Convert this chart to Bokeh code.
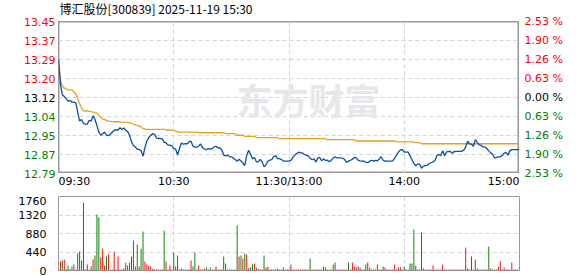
from bokeh.plotting import figure
from bokeh.models import Range1d, FixedTicker, Grid, Label, ColumnDataSource
from bokeh.layouts import column, row
from bokeh.core.properties import value
from bokeh.embed import file_html
from bokeh.resources import INLINE

TITLE = "博汇股份[300839] 2025-11-19 15:30"
WATERMARK = "东方财富"
PREV_CLOSE = 13.12
PRICE_HI = 13.452
PRICE_LO = 12.788

PRICE_TICKS = [13.452, 13.369, 13.286, 13.203, 13.12, 13.037, 12.954, 12.871, 12.788]
PRICE_LABELS = ["13.45", "13.37", "13.29", "13.20", "13.12", "13.04", "12.95", "12.87", "12.79"]
PCT_LABELS = ["2.53 %", "1.90 %", "1.26 %", "0.63 %", "0.00 %", "0.63 %", "1.26 %", "1.90 %", "2.53 %"]

TIME_TICKS = [0, 60, 120, 180, 240]
TIME_LABELS = ["09:30", "10:30", "11:30/13:00", "14:00", "15:00"]

VOL_TICKS = [0, 440, 880, 1320, 1760]

MINUTES = list(range(241))

PRICE = [
    13.288, 13.179, 13.131, 13.124, 13.114, 13.104, 13.107, 13.100, 13.100, 13.097,
    13.056, 13.017, 13.024, 13.007, 13.003, 13.004, 13.020, 13.017, 13.040, 13.024,
    12.998, 12.969, 12.955, 12.962, 12.969, 12.955, 12.954, 12.959, 12.968, 12.977,
    12.978, 12.978, 12.988, 12.980, 12.987, 12.977, 12.971, 12.955, 12.926, 12.910,
    12.904, 12.893, 12.893, 12.887, 12.864, 12.901, 12.930, 12.945, 12.954, 12.962,
    12.959, 12.943, 12.941, 12.941, 12.939, 12.925, 12.922, 12.912, 12.912, 12.909,
    12.897, 12.894, 12.869, 12.897, 12.921, 12.916, 12.918, 12.918, 12.926, 12.929,
    12.907, 12.903, 12.903, 12.908, 12.917, 12.901, 12.895, 12.892, 12.897, 12.894,
    12.897, 12.904, 12.907, 12.900, 12.901, 12.892, 12.869, 12.865, 12.868, 12.862,
    12.861, 12.856, 12.849, 12.842, 12.850, 12.843, 12.833, 12.823, 12.868, 12.890,
    12.872, 12.852, 12.858, 12.839, 12.839, 12.850, 12.839, 12.817, 12.826, 12.842,
    12.846, 12.849, 12.861, 12.866, 12.853, 12.853, 12.850, 12.842, 12.842, 12.842,
    12.842, 12.845, 12.859, 12.868, 12.875, 12.881, 12.878, 12.878, 12.871, 12.868,
    12.865, 12.855, 12.848, 12.852, 12.839, 12.855, 12.858, 12.843, 12.852, 12.845,
    12.846, 12.839, 12.846, 12.856, 12.861, 12.856, 12.856, 12.856, 12.855, 12.849,
    12.836, 12.842, 12.846, 12.850, 12.859, 12.856, 12.846, 12.843, 12.842, 12.842,
    12.837, 12.835, 12.842, 12.846, 12.842, 12.845, 12.843, 12.852, 12.861, 12.846,
    12.842, 12.842, 12.842, 12.842, 12.843, 12.855, 12.868, 12.882, 12.891, 12.892,
    12.882, 12.881, 12.882, 12.865, 12.849, 12.832, 12.822, 12.829, 12.829, 12.811,
    12.820, 12.822, 12.824, 12.832, 12.835, 12.839, 12.845, 12.866, 12.871, 12.866,
    12.887, 12.866, 12.882, 12.884, 12.884, 12.877, 12.884, 12.885, 12.885, 12.885,
    12.885, 12.890, 12.904, 12.929, 12.917, 12.916, 12.907, 12.936, 12.924, 12.913,
    12.911, 12.904, 12.904, 12.897, 12.887, 12.878, 12.872, 12.856, 12.858, 12.861,
    12.861, 12.866, 12.877, 12.879, 12.868, 12.888, 12.892, 12.892, 12.892, 12.892,
    12.892,
]

AVG_PRICE = [
    13.270, 13.197, 13.169, 13.162, 13.158, 13.153, 13.153, 13.153, 13.145, 13.136,
    13.114, 13.092, 13.075, 13.062, 13.061, 13.061, 13.059, 13.058, 13.056, 13.055,
    13.052, 13.042, 13.033, 13.026, 13.023, 13.020, 13.017, 13.016, 13.015, 13.015,
    13.014, 13.014, 13.014, 13.012, 13.011, 13.011, 13.011, 13.010, 13.008, 13.003,
    13.000, 12.997, 12.996, 12.991, 12.984, 12.983, 12.981, 12.981, 12.981, 12.981,
    12.981, 12.981, 12.981, 12.981, 12.981, 12.981, 12.978, 12.978, 12.978, 12.978,
    12.975, 12.974, 12.969, 12.969, 12.969, 12.969, 12.969, 12.969, 12.969, 12.969,
    12.969, 12.969, 12.969, 12.966, 12.966, 12.966, 12.966, 12.966, 12.966, 12.966,
    12.966, 12.966, 12.966, 12.966, 12.966, 12.966, 12.966, 12.962, 12.962, 12.962,
    12.962, 12.962, 12.962, 12.955, 12.955, 12.955, 12.955, 12.950, 12.950, 12.950,
    12.950, 12.950, 12.950, 12.945, 12.945, 12.945, 12.945, 12.945, 12.945, 12.945,
    12.945, 12.945, 12.945, 12.945, 12.945, 12.940, 12.940, 12.940, 12.940, 12.940,
    12.940, 12.940, 12.940, 12.940, 12.940, 12.940, 12.940, 12.940, 12.940, 12.940,
    12.940, 12.940, 12.940, 12.940, 12.940, 12.940, 12.940, 12.940, 12.940, 12.940,
    12.936, 12.936, 12.936, 12.936, 12.936, 12.936, 12.936, 12.936, 12.936, 12.936,
    12.936, 12.936, 12.936, 12.936, 12.936, 12.930, 12.930, 12.930, 12.930, 12.930,
    12.930, 12.930, 12.930, 12.930, 12.930, 12.930, 12.930, 12.930, 12.930, 12.930,
    12.930, 12.930, 12.930, 12.930, 12.930, 12.930, 12.926, 12.926, 12.926, 12.926,
    12.926, 12.926, 12.926, 12.926, 12.926, 12.925, 12.923, 12.923, 12.923, 12.918,
    12.918, 12.918, 12.918, 12.918, 12.918, 12.918, 12.918, 12.918, 12.918, 12.918,
    12.918, 12.918, 12.918, 12.918, 12.918, 12.918, 12.918, 12.918, 12.918, 12.918,
    12.918, 12.918, 12.918, 12.918, 12.918, 12.918, 12.918, 12.918, 12.918, 12.918,
    12.918, 12.918, 12.918, 12.918, 12.918, 12.918, 12.918, 12.918, 12.918, 12.918,
    12.918, 12.918, 12.918, 12.918, 12.918, 12.918, 12.918, 12.918, 12.918, 12.918,
    12.918,
]

VOLUME = [
    24, 214, 238, 262, 40, 119, 30, 95, 143, 24,
    412, 452, 238, 1610, 30, 143, 24, 103, 262, 357,
    1332, 1261, 317, 523, 119, 333, 380, 24, 24, 452,
    24, 333, 24, 24, 55, 182, 119, 182, 333, 714,
    95, 619, 95, 515, 928, 214, 143, 103, 95, 40,
    24, 24, 24, 24, 24, 952, 214, 24, 119, 24,
    428, 95, 357, 24, 48, 24, 24, 24, 24, 238,
    95, 428, 24, 119, 24, 24, 40, 70, 24, 70,
    24, 24, 95, 24, 24, 24, 333, 166, 24, 24,
    24, 24, 24, 1070, 333, 357, 285, 404, 380, 55,
    70, 143, 166, 70, 40, 24, 24, 357, 70, 95,
    24, 24, 24, 24, 48, 24, 24, 70, 24, 24,
    24, 143, 24, 24, 24, 24, 24, 24, 24, 24,
    24, 285, 24, 24, 24, 24, 24, 24, 95, 70,
    24, 24, 24, 143, 190, 24, 24, 24, 24, 24,
    24, 190, 24, 190, 95, 70, 95, 70, 24, 24,
    143, 190, 70, 24, 24, 24, 143, 24, 24, 95,
    70, 24, 24, 24, 24, 143, 24, 70, 70, 24,
    95, 24, 24, 166, 166, 975, 119, 24, 24, 904,
    48, 24, 24, 24, 24, 119, 24, 24, 24, 24,
    143, 24, 24, 24, 24, 24, 24, 24, 24, 24,
    24, 24, 547, 48, 24, 333, 24, 262, 48, 24,
    24, 24, 24, 24, 571, 48, 24, 24, 24, 95,
    214, 24, 70, 24, 24, 24, 190, 24, 24, 24,
    95,
]

VOL_DIR = [
    "u", "u", "d", "u", "d", "d", "u", "d", "u", "d",
    "d", "d", "u", "d", "u", "u", "u", "d", "u", "d",
    "d", "d", "u", "u", "u", "d", "u", "u", "u", "u",
    "u", "u", "u", "u", "u", "d", "d", "d", "d", "d",
    "u", "d", "u", "d", "d", "u", "u", "u", "u", "u",
    "u", "u", "u", "u", "u", "d", "u", "u", "u", "u",
    "d", "u", "d", "u", "d", "u", "u", "u", "u", "u",
    "d", "d", "u", "u", "u", "u", "u", "d", "u", "d",
    "u", "u", "u", "d", "u", "u", "d", "u", "u", "d",
    "u", "u", "u", "d", "u", "d", "u", "d", "u", "u",
    "d", "d", "u", "d", "u", "u", "u", "d", "u", "u",
    "u", "u", "u", "u", "d", "u", "u", "d", "u", "u",
    "u", "u", "u", "u", "u", "u", "u", "u", "u", "u",
    "u", "d", "u", "u", "u", "u", "u", "u", "d", "u",
    "u", "u", "u", "u", "d", "u", "u", "u", "u", "u",
    "u", "d", "u", "u", "u", "u", "u", "d", "u", "u",
    "d", "u", "u", "u", "u", "u", "u", "u", "u", "d",
    "u", "u", "u", "u", "u", "u", "u", "u", "u", "u",
    "d", "d", "u", "d", "d", "d", "u", "u", "u", "d",
    "u", "u", "u", "u", "u", "u", "u", "u", "u", "u",
    "u", "u", "d", "u", "u", "u", "d", "u", "u", "u",
    "u", "u", "u", "d", "u", "d", "u", "u", "d", "d",
    "d", "d", "u", "u", "d", "u", "d", "d", "u", "u",
    "u", "u", "u", "u", "u", "u", "u", "u", "u", "u",
    "u",
]

RED = "#ff0000"
GREEN = "#008000"
BLUE = "#0c4ea6"
ORANGE = "#e4a11b"
GRID_COLOR = "#d4d4d4"
FRAME_COLOR = "#999999"
FONT = "DejaVu Sans"

# layout geometry (pixels)
LEFT_W, FRAME_W, RIGHT_W = 58, 461, 59
TOP_H, FRAME_H, BOT_H = 21, 152, 23
VOL_H = 80

COMMON = dict(output_backend="svg", toolbar_location=None,
              x_axis_location=None, y_axis_location=None, min_border=0)


def strip_grids(p):
    p.center = [r for r in p.center if not isinstance(r, Grid)]


def helper(width, height, x_range, y_range):
    f = figure(width=width, height=height, x_range=x_range, y_range=y_range, **COMMON)
    strip_grids(f)
    f.outline_line_color = None
    return f


label_colors = []
for tick in PRICE_TICKS:
    if tick > PREV_CLOSE + 1e-9:
        label_colors.append(RED)
    elif tick < PREV_CLOSE - 1e-9:
        label_colors.append(GREEN)
    else:
        label_colors.append("#000000")

# ---------------- price panel ----------------
time_range = Range1d(0, 240)
price_range = Range1d(PRICE_LO, PRICE_HI)

p1 = figure(width=FRAME_W, height=FRAME_H, x_range=time_range, y_range=price_range, **COMMON)
strip_grids(p1)
p1.outline_line_color = FRAME_COLOR
p1.outline_line_width = 2

p1.add_layout(Grid(dimension=0, ticker=FixedTicker(ticks=TIME_TICKS[1:-1]),
                   grid_line_color=GRID_COLOR, grid_line_dash="4 3"))
p1.add_layout(Grid(dimension=1, ticker=FixedTicker(ticks=PRICE_TICKS[1:-1]),
                   grid_line_color=GRID_COLOR, grid_line_dash="4 3"))

p1.add_layout(Label(x=178, y=75, x_units="screen", y_units="screen", text=WATERMARK,
                    text_font="Noto Sans CJK SC", text_font_style="bold", text_font_size="36px",
                    text_color="#e6e7eb", text_baseline="middle", text_align="left",
                    level="underlay"))

src = ColumnDataSource(dict(t=MINUTES, price=PRICE, avg=AVG_PRICE))
p1.line("t", "avg", source=src, line_color=ORANGE, line_width=1.3)
p1.line("t", "price", source=src, line_color=BLUE, line_width=1.3)

# price tick labels (left) and percent labels (right), sharing the price scale
SIDE_H = TOP_H + FRAME_H + 13
unit = (PRICE_HI - PRICE_LO) / FRAME_H
side_range = Range1d(PRICE_LO - (SIDE_H - TOP_H - FRAME_H) * unit, PRICE_HI + TOP_H * unit)
tick_src = ColumnDataSource(dict(y=PRICE_TICKS, price=PRICE_LABELS, pct=PCT_LABELS,
                                 color=label_colors,
                                 xl=[1] * len(PRICE_TICKS), xr=[0] * len(PRICE_TICKS)))

left = helper(LEFT_W, SIDE_H, Range1d(0, 1), side_range)
left.text(x="xl", y="y", text="price", source=tick_src, text_color="color",
          text_align="right", text_baseline="middle", x_offset=-3,
          text_font=value(FONT), text_font_size="11px")

right = helper(RIGHT_W, SIDE_H, Range1d(0, 1), side_range)
right.text(x="xr", y="y", text="pct", source=tick_src, text_color="color",
           text_align="left", text_baseline="middle", x_offset=5,
           text_font=value(FONT), text_font_size="11px")

# title strip above the frame
top = helper(FRAME_W, TOP_H, time_range, Range1d(0, TOP_H))
top.text(x=[TIME_TICKS[0]], y=[TOP_H - 8], text=[TITLE], text_align="left",
         text_baseline="middle", x_offset=1, text_color="#000000",
         text_font=value("Noto Sans CJK SC"), text_font_size="12px")

# time labels below the frame (strip also holds the gap above the volume panel)
bottom = helper(FRAME_W, BOT_H, time_range, Range1d(0, BOT_H))
time_src = ColumnDataSource(dict(x=TIME_TICKS, y=[BOT_H - 8] * len(TIME_TICKS), text=TIME_LABELS,
                                 align=["left", "center", "center", "center", "right"]))
bottom.text(x="x", y="y", text="text", source=time_src, text_align="align",
            text_baseline="middle", text_color="#000000",
            text_font=value(FONT), text_font_size="11px")

gap_left = helper(LEFT_W, BOT_H - 13, Range1d(0, 1), Range1d(0, 1))
gap_right = helper(RIGHT_W, BOT_H - 13, Range1d(0, 1), Range1d(0, 1))

# ---------------- volume panel ----------------
p2 = figure(width=LEFT_W + FRAME_W + RIGHT_W, height=VOL_H, x_range=time_range,
            y_range=Range1d(0, VOL_TICKS[-1]), x_axis_location=None, y_axis_location="left",
            output_backend="svg", toolbar_location=None, min_border_left=LEFT_W,
            min_border_right=RIGHT_W, min_border_top=0, min_border_bottom=6)
strip_grids(p2)
p2.outline_line_color = FRAME_COLOR
p2.yaxis.ticker = FixedTicker(ticks=VOL_TICKS)
p2.yaxis.axis_line_color = None
p2.yaxis.major_tick_line_color = None
p2.yaxis.minor_tick_line_color = None
p2.yaxis.major_label_standoff = 6
p2.yaxis.major_label_text_font = FONT
p2.yaxis.major_label_text_font_size = "11px"
p2.yaxis.major_label_text_color = "#000000"

p2.add_layout(Grid(dimension=0, ticker=FixedTicker(ticks=TIME_TICKS[1:-1]),
                   grid_line_color=GRID_COLOR, grid_line_dash="4 3"))
p2.add_layout(Grid(dimension=1, ticker=FixedTicker(ticks=VOL_TICKS[1:-1]),
                   grid_line_color=GRID_COLOR, grid_line_dash="4 3"))

colors = [RED if d == "u" else GREEN for d in VOL_DIR]
vsrc = ColumnDataSource(dict(t=MINUTES, vol=VOLUME, color=colors))
p2.vbar(x="t", top="vol", width=0.5, source=vsrc, fill_color="color", line_color=None)

middle = column(top, p1, bottom, spacing=0)
sides = row(column(left, gap_left, spacing=0), middle, column(right, gap_right, spacing=0), spacing=0)
layout = column(sides, p2, spacing=0)
open("out.html", "w").write(file_html(layout, INLINE))
